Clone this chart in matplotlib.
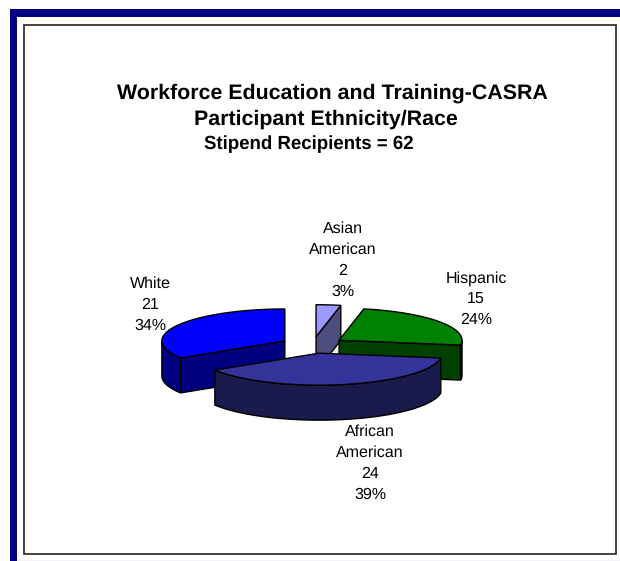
import numpy as np
import matplotlib
matplotlib.use("Agg")
import matplotlib.pyplot as plt
from matplotlib.patches import Polygon, Rectangle

plt.rcParams["font.family"] = ["Liberation Sans", "DejaVu Sans"]
plt.rcParams["text.hinting"] = "none"

# data, clockwise from 12 o'clock
names = ["Asian\nAmerican", "Hispanic", "African\nAmerican", "White"]
values = [2, 15, 24, 21]
percents = [3, 24, 39, 34]

top_colors = ["#9999ff", "#008000", "#333399", "#0000ff"]
side_colors = ["#4d4d80", "#004000", "#1a1a4d", "#000080"]
label_pos = [(343, 260), (476, 299), (370, 463), (150, 305)]
draw_order = [0, 3, 1, 2]

# pie geometry in pixels
cx, cy = 312.8, 345
rx, ry = 123, 32
depth = 35
explode = 0.26

fig = plt.figure(figsize=(6.2, 5.61), dpi=100)
ax = fig.add_axes([0, 0, 1, 1])
ax.set_xlim(0, 620)
ax.set_ylim(561, 0)
ax.axis("off")

# page frame
ax.add_patch(Rectangle((9.5, 9), 611, 8, color="#000080", lw=0))
ax.add_patch(Rectangle((9.5, 9), 7.5, 552, color="#000080", lw=0))
ax.plot([17, 620], [560.5, 560.5], color="#c4c4e4", lw=1)
ax.add_patch(Rectangle((23.5, 24.5), 592.5, 529.5, fill=False, ec="#222222", lw=1.2))


def point(x0, y0, t):
    return x0 + rx * np.sin(t), y0 - ry * np.cos(t)


def down(pts):
    return [(x, y + depth) for x, y in pts]


total = sum(values)
edges = np.radians(np.cumsum([0] + values) / total * 360)

for i in draw_order:
    t0, t1 = edges[i], edges[i + 1]
    mid = (t0 + t1) / 2
    x0 = cx + explode * rx * np.sin(mid)
    y0 = cy - explode * ry * np.cos(mid)
    z = 3 + draw_order.index(i)

    ts = np.linspace(t0, t1, 80)
    rim = [point(x0, y0, t) for t in ts]

    # cut faces that look towards the viewer
    if np.sin(t1) > 1e-6:
        edge = [(x0, y0), rim[-1]]
        ax.add_patch(Polygon(edge + down(edge)[::-1], fc=side_colors[i], ec="black", lw=1, zorder=z))
    if np.sin(t0) < -1e-6:
        edge = [(x0, y0), rim[0]]
        ax.add_patch(Polygon(edge + down(edge)[::-1], fc=side_colors[i], ec="black", lw=1, zorder=z))

    # outer wall, front half only
    front = [p for t, p in zip(ts, rim) if np.cos(t) <= 0]
    if len(front) > 1:
        ax.add_patch(Polygon(front + down(front)[::-1], fc=side_colors[i], ec="black", lw=1, zorder=z))

    ax.add_patch(Polygon([(x0, y0)] + rim, fc=top_colors[i], ec="black", lw=1, zorder=z))

for name, v, p, (lx, ly) in zip(names, values, percents, label_pos):
    ax.text(lx, ly, f"{name}\n{v}\n{p}%", ha="center", va="center", fontsize=11.5,
            linespacing=1.52, color="black", zorder=10)

ax.text(332, 93, "Workforce Education and Training-CASRA", ha="center", va="center",
        fontsize=15.4, fontweight="bold")
ax.text(326, 119, "Participant Ethnicity/Race", ha="center", va="center",
        fontsize=15.4, fontweight="bold")
ax.text(309, 144, "Stipend Recipients = 62", ha="center", va="center",
        fontsize=13.4, fontweight="bold")

fig.savefig("out.png", dpi=100)
plt.close(fig)
